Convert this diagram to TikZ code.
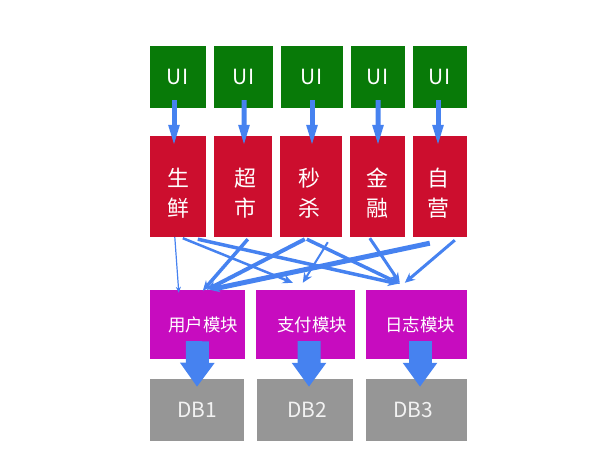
\documentclass[tikz,border=0pt]{standalone}
\usepackage{fontspec}
\setmainfont{Noto Sans CJK SC}
\usetikzlibrary{arrows.meta,calc}
\definecolor{uig}{RGB}{8,122,8}
\definecolor{bizr}{RGB}{204,14,46}
\definecolor{modp}{RGB}{199,12,191}
\definecolor{dbg}{RGB}{150,150,150}
\definecolor{dbtext}{RGB}{242,242,242}
\definecolor{arrb}{RGB}{70,130,240}
\begin{document}
\begin{tikzpicture}[x=1bp,y=-1bp,
  box/.style={rectangle, inner sep=0pt, text=white},
  uibox/.style={box, fill=uig, minimum height=62bp, font=\fontsize{21}{21}\selectfont},
  bizbox/.style={box, fill=bizr, minimum height=101bp},
  rtxt/.style={text=white, align=center, inner sep=0pt, font=\fontsize{22}{30}\selectfont, yshift=-6.5bp},
  modbox/.style={box, fill=modp, minimum height=69bp, font=\fontsize{17.5}{17.5}\selectfont},
  dbbox/.style={box, fill=dbg, minimum height=62bp, text=dbtext, font=\fontsize{21}{21}\selectfont},
  uiarrow/.style={draw=arrb, line width=5bp, -{Triangle[length=22bp,width=10bp]}},
  dbarrow/.style={draw=arrb, line width=23bp, -{Triangle[length=24bp,width=33bp]}},
  callarrow/.style={draw=arrb, -{Stealth[length=10bp,width=9bp]}}
]
\useasboundingbox (0,0) rectangle (600,460);

% UI row
\node[uibox, minimum width=56bp] (u1) at (178,77) {U\kern1bp I};
\node[uibox, minimum width=59bp] (u2) at (243.5,77) {U\kern1bp I};
\node[uibox, minimum width=62bp] (u3) at (312,77) {U\kern1bp I};
\node[uibox, minimum width=54bp] (u4) at (378,77) {U\kern1bp I};
\node[uibox, minimum width=54bp] (u5) at (440,77) {U\kern1bp I};

% business row
\node[bizbox, minimum width=56bp, label={[rtxt]center:生\\鲜}] (r1) at (178,186.5) {};
\node[bizbox, minimum width=58bp, label={[rtxt, xshift=2bp]center:超\\市}] (r2) at (243,186.5) {};
\node[bizbox, minimum width=62bp, label={[rtxt, xshift=-2bp]center:秒\\杀}] (r3) at (311,186.5) {};
\node[bizbox, minimum width=55bp, label={[rtxt]center:金\\融}] (r4) at (377.5,186.5) {};
\node[bizbox, minimum width=54bp, label={[rtxt, xshift=-2bp]center:自\\营}] (r5) at (440,186.5) {};

% module row
\node[modbox, minimum width=95bp] (p1) at (197.5,324.5) {\hspace*{11bp}用户模块};
\node[modbox, minimum width=99bp] (p2) at (305.5,324.5) {\hspace*{13bp}支付模块};
\node[modbox, minimum width=101bp] (p3) at (416.5,324.5) {\hspace*{7bp}日志模块};

% db row
\node[dbbox, minimum width=94bp] (g1) at (197,410) {DB1};
\node[dbbox, minimum width=96bp] (g2) at (305,410) {\hspace*{4bp}DB2};
\node[dbbox, minimum width=101bp] (g3) at (416.5,410) {\hspace*{-7bp}DB3};

% UI -> business
\draw[uiarrow] ([xshift=-4bp,yshift=8bp]u1.south) -- ([xshift=-4bp,yshift=-11bp]r1.north);
\draw[uiarrow] ([xshift=0.5bp,yshift=8bp]u2.south) -- ([xshift=1bp,yshift=-11bp]r2.north);
\draw[uiarrow] ([yshift=8bp]u3.south) -- ([xshift=1bp,yshift=-11bp]r3.north);
\draw[uiarrow] ([yshift=8bp]u4.south) -- ([xshift=0.5bp,yshift=-11bp]r4.north);
\draw[uiarrow] ([xshift=-2bp,yshift=8bp]u5.south) -- ([xshift=-2bp,yshift=-11bp]r5.north);

% business -> modules
\draw[callarrow, line width=1.2bp, -{Stealth[length=6bp,width=5bp]}] ($(r1.south west)+(25,0)$) -- ($(p1.north west)+(29,3)$);
\draw[callarrow, line width=2.5bp] ($(r1.south west)+(33,1)$) -- ($(p2.north west)+(37,-7)$);
\draw[callarrow, line width=3.5bp] ($(r1.south west)+(48,2)$) -- ($(p3.north west)+(32,-6)$);
\draw[callarrow, line width=3.5bp] ($(r2.south west)+(34,2)$) -- ($(p1.north west)+(53,1)$);
\draw[callarrow, line width=4bp] ($(r3.south west)+(25,2)$) -- ($(p1.north west)+(57,0)$);
\draw[callarrow, line width=3.5bp] ($(r3.south west)+(27,2)$) -- ($(p3.north west)+(34,-6)$);
\draw[callarrow, line width=2bp] ($(r3.south west)+(48,5)$) -- ($(p2.north west)+(47,-7)$);
\draw[callarrow, line width=3bp] ($(r4.south west)+(20,1)$) -- ($(p3.north west)+(34,-7)$);
\draw[callarrow, line width=5bp] ($(r5.south west)+(17,6)$) -- ($(p1.north west)+(60,0)$);
\draw[callarrow, line width=3bp] ($(r5.south west)+(42,3)$) -- ($(p3.north west)+(39,-7)$);

% modules -> databases
\draw[dbarrow] ([yshift=18bp]p1.south) -- ([yshift=-8bp]g1.north);
\draw[dbarrow] ([xshift=3.5bp,yshift=18bp]p2.south) -- ([xshift=4bp,yshift=-8bp]g2.north);
\draw[dbarrow] ([xshift=3.5bp,yshift=18bp]p3.south) -- ([xshift=3.5bp,yshift=-8bp]g3.north);
\end{tikzpicture}
\end{document}
